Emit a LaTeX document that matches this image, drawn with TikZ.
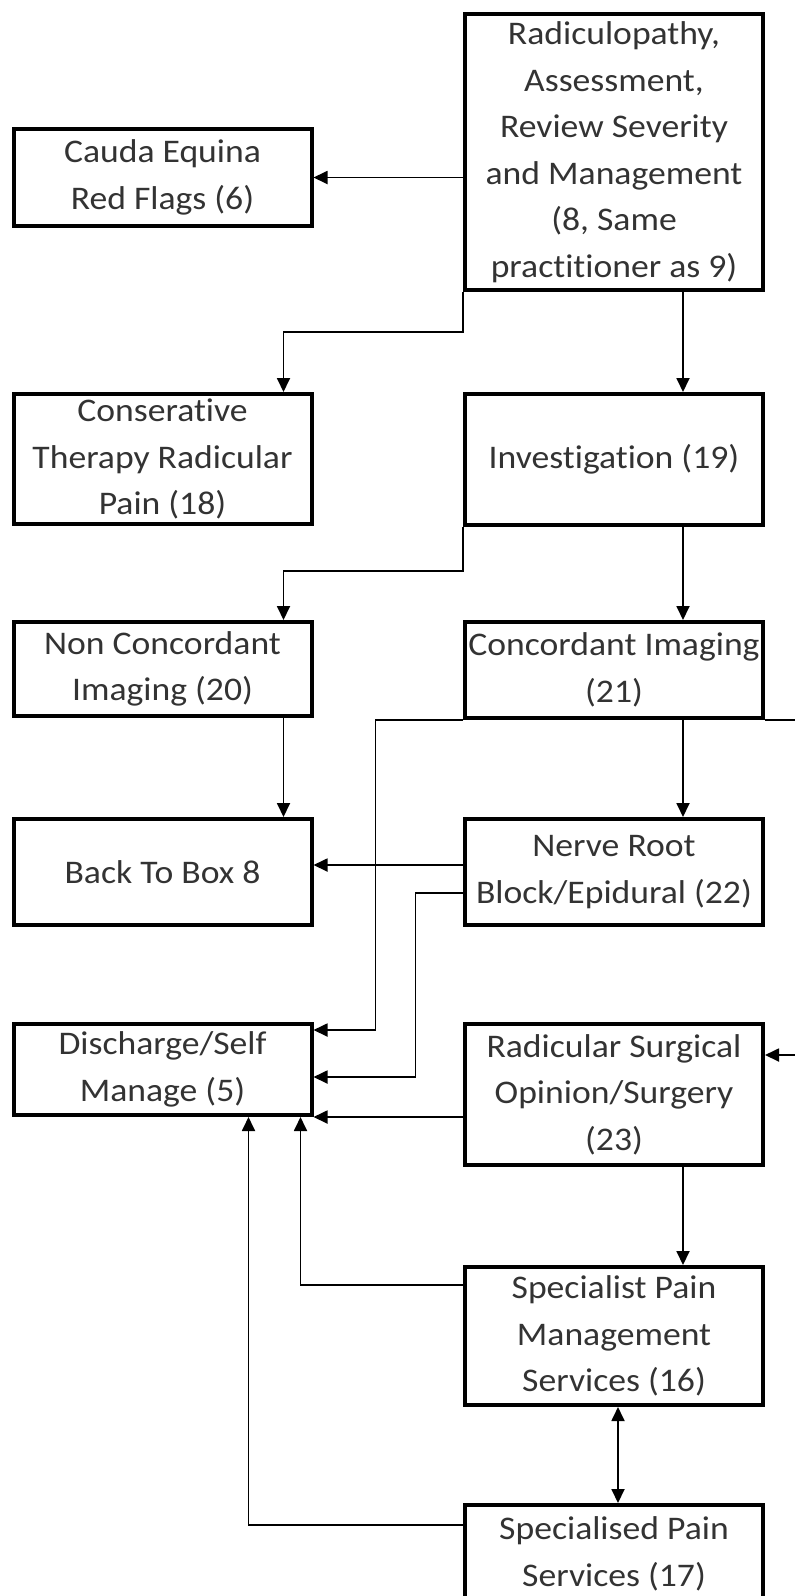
\documentclass[tikz,border=0pt]{standalone}
\usepackage{fontspec}
\setmainfont{Carlito}[FakeStretch=1.08,Ligatures=NoCommon]
\usetikzlibrary{arrows.meta}

\begin{document}
\begin{tikzpicture}[x=1pt,y=-1pt,
  box/.style={shape=rectangle,draw=black,align=center,line width=4pt,inner sep=0pt,text=black!80,font=\fontsize{33}{46.5}\selectfont,minimum width=298pt},
  arr/.style={-{Triangle[length=14pt,width=13pt]},draw=black,line width=1.8pt}]
\useasboundingbox (0,0) rectangle (795,1596);
\node[box,minimum height=276pt] (0) at (614,152) {Radiculopathy,\\Assessment,\\Review Severity\\and Management\\(8, Same\\practitioner as 9)};
\node[box,minimum height=97pt] (1) at (162.5,177.5) {Cauda Equina\\Red Flags (6)};
\node[box,minimum height=130pt] (2) at (162.5,459) {Conserative\\Therapy Radicular\\Pain (18)};
\node[box,minimum height=131pt] (3) at (614,459.5) {Investigation (19)};
\node[box,minimum height=94pt] (4) at (162.5,669) {Non Concordant\\Imaging (20)};
\node[box,minimum height=96pt] (5) at (614,670) {Concordant Imaging\\(21)};
\node[box,minimum height=106pt] (6) at (162.5,872) {Back To Box 8};
\node[box,minimum height=106pt] (7) at (614,872) {Nerve Root\\Block/Epidural (22)};
\node[box,minimum height=91pt] (8) at (162.5,1069.5) {Discharge/Self\\Manage (5)};
\node[box,minimum height=141pt] (9) at (614,1094.5) {Radicular Surgical\\Opinion/Surgery\\(23)};
\node[box,minimum height=138pt] (10) at (614,1336) {Specialist Pain\\Management\\Services (16)};
\node[box,minimum height=98pt] (11) at (614,1554) {Specialised Pain\\Services (17)};

\draw[arr] (0.west |- 1.east) -- (1.east);
\draw[arr] (0.south west) -- ++(0,40) -| ([xshift=-30pt]2.north east);
\draw[arr] ([xshift=69pt]0.south) -- ([xshift=69pt]3.north);
\draw[arr] (3.south west) -- ++(0,44) -| ([xshift=-30pt]4.north east);
\draw[arr] ([xshift=69pt]3.south) -- ([xshift=69pt]5.north);
\draw[arr] ([xshift=-30pt]4.south east) -- ([xshift=-30pt]6.north east);
\draw[arr] ([xshift=69pt]5.south) -- ([xshift=69pt]7.north);
\draw[arr] (5.south west) -| ([xshift=62pt,yshift=-8pt]8.north east) -- ([yshift=-8pt]8.north east);
\draw[arr] (5.south east) -- ++(45,0) |- ([yshift=-33pt]9.north east);
\draw[arr] ([yshift=7pt]7.west) -- ([yshift=7pt]6.east);
\draw[arr] ([yshift=-21pt]7.west) -| ([xshift=102pt,yshift=-55pt]8.north east) -- ([yshift=-55pt]8.north east);
\draw[arr] (9.west |- 8.south east) -- (8.south east);
\draw[arr] ([xshift=69pt]9.south) -- ([xshift=69pt]10.north);
\draw[arr] ([yshift=-20pt]10.north west) -| ([xshift=-13pt]8.south east);
\draw[arr] ([yshift=-22pt]11.north west) -| ([xshift=-65pt]8.south east);
\draw[arr,{Triangle[length=14pt,width=13pt]}-{Triangle[length=14pt,width=13pt]}] ([xshift=4pt]10.south) -- ([xshift=4pt]11.north);
\end{tikzpicture}
\end{document}
